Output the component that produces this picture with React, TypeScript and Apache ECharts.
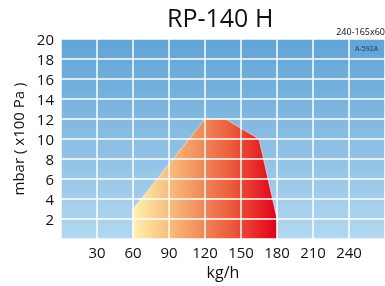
import React, { useEffect, useRef } from "react";
import * as echarts from "echarts";

const curveX = [60, 60, 120, 137, 165, 180, 180];
const curveY = [0, 3, 12, 12, 10, 2, 0];
const xTicks = [0, 30, 60, 90, 120, 150, 180, 210, 240, 270];
const yTicks = [0, 2, 4, 6, 8, 10, 12, 14, 16, 18, 20];
const titleText = "RP-140 H";
const sizeText = "240-165x60";
const codeText = "A-592A";

const FONT = "'Open Sans', 'Noto Sans', sans-serif";

export default function App() {
  const ref = useRef<HTMLDivElement>(null);
  useEffect(() => {
    if (!ref.current) return;
    const chart = echarts.init(ref.current, null, { renderer: "svg" });
    const data = curveX.map((x, i) => [x, curveY[i]]);
    chart.setOption({
      animation: false,
      textStyle: { fontFamily: FONT },
      grid: {
        left: 61,
        right: 0,
        top: 39,
        bottom: 47,
        containLabel: false,
        outerBoundsMode: "none",
        show: true,
        borderWidth: 0,
        backgroundColor: new echarts.graphic.LinearGradient(0, 0, 0, 1, [
          { offset: 0, color: "#60a3d6" },
          { offset: 1, color: "#b3d8f0" },
        ]),
      },
      xAxis: {
        type: "value",
        min: xTicks[0],
        max: xTicks[xTicks.length - 1],
        interval: 30,
        z: 5,
        name: "kg/h",
        nameLocation: "middle",
        nameGap: 24,
        nameTextStyle: { fontSize: 16, color: "#111", fontFamily: FONT },
        axisLine: { show: false },
        axisTick: { show: false },
        axisLabel: {
          fontSize: 15,
          color: "#111",
          margin: 5,
          fontFamily: FONT,
          formatter: (v: number) => (v === xTicks[0] || v === xTicks[xTicks.length - 1] ? "" : String(v)),
        },
        splitLine: { show: true, lineStyle: { color: "#ffffff", width: 1.5 } },
      },
      yAxis: {
        type: "value",
        min: yTicks[0],
        max: yTicks[yTicks.length - 1],
        interval: 2,
        z: 5,
        name: "mbar ( x100 Pa )",
        nameLocation: "middle",
        nameGap: 34,
        nameTextStyle: { fontSize: 15, color: "#111", fontFamily: FONT },
        axisLine: { show: false },
        axisTick: { show: false },
        axisLabel: {
          fontSize: 15,
          color: "#111",
          margin: 7,
          fontFamily: FONT,
          padding: [0, 0, 5, 0],
          formatter: (v: number) => (v === 0 ? "" : String(v)),
        },
        splitLine: { show: true, lineStyle: { color: "#ffffff", width: 1.5 } },
      },
      series: [
        {
          type: "line",
          data,
          symbol: "none",
          z: 2,
          lineStyle: { width: 1, color: "rgba(255,255,255,0.5)" },
          areaStyle: {
            opacity: 1,
            origin: "start",
            color: new echarts.graphic.LinearGradient(0, 0, 1, 0, [
              { offset: 0, color: "#fff2ad" },
              { offset: 0.35, color: "#f5a86a" },
              { offset: 0.7, color: "#e9573a" },
              { offset: 1, color: "#e2001a" },
            ]),
          },
        },
      ],
      graphic: [
        {
          type: "text",
          left: 220 - 53,
          top: 4,
          style: { text: titleText, fontSize: 25, fill: "#111", fontFamily: FONT },
        },
        {
          type: "text",
          right: 0,
          top: 27,
          style: { text: sizeText, fontSize: 9, fill: "#111", fontFamily: FONT },
        },
        {
          type: "text",
          left: 355,
          top: 45,
          z: 10,
          style: { text: codeText, fontSize: 7, fill: "#1a3050", fontFamily: FONT },
        },
      ],
    });
    return () => chart.dispose();
  }, []);
  return (
    <div
      ref={ref}
      style={{ position: "fixed", left: 0, top: 0, width: 385, height: 286 }}
    />
  );
}
